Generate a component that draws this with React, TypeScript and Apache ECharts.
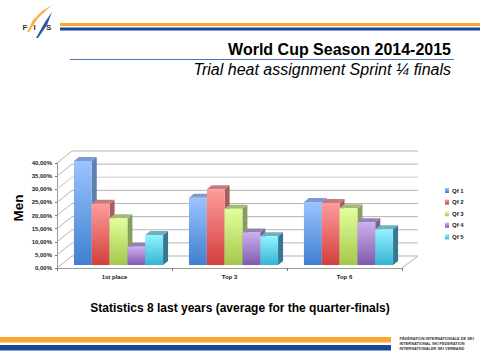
import React, { useEffect, useRef } from "react";
import * as echarts from "echarts";

const categories = ["1st place", "Top 3", "Top 6"];
const seriesNames = ["Qf 1", "Qf 2", "Qf 3", "Qf 4", "Qf 5"];
const qf1 = [40, 26, 24.4];
const qf2 = [23.7, 29.2, 24];
const qf3 = [18.2, 21.8, 22];
const qf4 = [7.3, 12.8, 16.7];
const qf5 = [11.8, 11.3, 14];
const seriesValues = [qf1, qf2, qf3, qf4, qf5];
const ticks = [0, 5, 10, 15, 20, 25, 30, 35, 40];
const palettes = [
  { top: "#9cc3ff", bottom: "#3f7fcf", side: "#5f7fae", cap: "#7a9ccc" },
  { top: "#ff9c9c", bottom: "#d13f3c", side: "#a85c5c", cap: "#c77c7c" },
  { top: "#e2ff9c", bottom: "#a4c84a", side: "#84a05c", cap: "#a3b97c" },
  { top: "#ccb0ee", bottom: "#7f5aab", side: "#75628f", cap: "#9681b3" },
  { top: "#94f2ff", bottom: "#35b4d6", side: "#35788f", cap: "#6fb0be" },
];

const DX = 15;
const DY = -12;

function vertical(top: string, bottom: string) {
  return new echarts.graphic.LinearGradient(0, 0, 0, 1, [
    { offset: 0, color: top },
    { offset: 1, color: bottom },
  ]);
}

function barRenderer(seriesIdx: number) {
  const pal = palettes[seriesIdx];
  return (_p: any, api: any) => {
    const cat = api.value(0);
    const base = api.coord([cat, 0]);
    const top = api.coord([cat, api.value(1)]);
    const band = api.size([1, 0])[0];
    const w = band * 0.155;
    const x0 = base[0] + 4 + (seriesIdx - 2.5) * w;
    const x1 = x0 + w;
    const yb = base[1] - 3;
    const yt = top[1] - 2;
    const dx = 5;
    const dy = -4;
    return {
      type: "group",
      children: [
        {
          type: "polygon",
          shape: { points: [[x1, yt], [x1 + dx, yt + dy], [x1 + dx, yb + dy], [x1, yb]] },
          style: { fill: pal.side },
        },
        {
          type: "polygon",
          shape: { points: [[x0, yt], [x0 + dx, yt + dy], [x1 + dx, yt + dy], [x1, yt]] },
          style: { fill: pal.cap },
        },
        {
          type: "rect",
          shape: { x: x0, y: yt, width: w, height: yb - yt },
          style: { fill: vertical(pal.top, pal.bottom) },
        },
      ],
    };
  };
}

function wallRenderer(_p: any, api: any) {
  const v = api.value(0);
  const left = api.coord([0, v]);
  const right = api.coord([2, v]);
  const band = api.size([1, 0])[0];
  const xl = left[0] - band / 2;
  const xr = right[0] + band / 2;
  return {
    type: "polyline",
    shape: {
      points: [
        [xl, left[1]],
        [xl + DX, left[1] + DY],
        [xr + DX + 1, left[1] + DY],
        ...(v === 0 ? [[xr, left[1]]] : []),
      ],
    },
    style: { fill: "none", stroke: v === 30 ? "#dedede" : "#b4b4b4", lineWidth: v === 30 ? 1.5 : 1 },
  };
}

const font = "Liberation Sans";

function txt(x: number, y: number, text: string, size: number, extra: any = {}) {
  return {
    type: "text",
    x,
    y,
    style: { text, fontFamily: font, fontSize: size, fill: "#000", textVerticalAlign: "middle", ...extra },
  };
}

const logoPath = (p: number[][], fill: any) => ({
  type: "polygon",
  shape: { points: p },
  style: { fill },
});

export default function App() {
  const ref = useRef<HTMLDivElement>(null);
  useEffect(() => {
    const chart = echarts.init(ref.current!, null, { renderer: "svg" });
    chart.setOption({
      animation: false,
      grid: { left: 57, width: 345, top: 163, height: 105 },
      legend: {
        orient: "vertical",
        left: 440,
        top: 182.5,
        itemWidth: 4,
        itemHeight: 5,
        itemGap: 5.6,
        icon: "rect",
        data: seriesNames,
        textStyle: { fontSize: 6, fontFamily: font, color: "#222", fontWeight: "bold", padding: [0, 0, 0, -2] },
      },
      xAxis: {
        type: "category",
        data: categories,
        axisLine: { lineStyle: { color: "#9a9a9a", width: 1 } },
        axisTick: { show: true, length: 3, lineStyle: { color: "#777" } },
        axisLabel: { fontSize: 6, fontFamily: font, color: "#222", fontWeight: "bold", margin: 6 },
      },
      yAxis: {
        type: "value",
        min: 0,
        max: 40,
        interval: 5,
        axisLine: { show: true, lineStyle: { color: "#9a9a9a" } },
        axisTick: { show: true, length: 2, lineStyle: { color: "#777" } },
        splitLine: { show: false },
        axisLabel: {
          fontSize: 6,
          fontFamily: font,
          color: "#222",
          fontWeight: "bold",
          margin: 5,
          formatter: (v: number) => v.toFixed(2).replace(".", ",") + "%",
        },
      },
      series: [
        {
          type: "custom",
          name: "wall",
          silent: true,
          z: 1,
          encode: { x: -1, y: 0 },
          data: ticks.map((t) => [t]),
          renderItem: wallRenderer,
        },
        ...seriesNames.map((name, i) => ({
          type: "custom",
          name,
          z: 2 + i,
          itemStyle: { color: vertical(palettes[i].top, palettes[i].bottom) },
          encode: { x: 0, y: 1 },
          data: seriesValues[i].map((v, c) => [c, v]),
          renderItem: barRenderer(i),
        })),
      ],
      graphic: [
        logoPath([[52, 5], [42, 11], [33, 20], [27, 32], [29, 32], [38, 18]], "#f7b048"),
        logoPath([[52, 12], [45, 22], [36, 38], [38, 38], [47, 25]], "#2c56a0"),
        txt(22.5, 27, "F", 8, { fontWeight: "bold", fill: "#333" }),
        txt(33.5, 27, "I", 8, { fontWeight: "bold", fill: "#333" }),
        txt(46, 27, "S", 8, { fontWeight: "bold", fill: "#333" }),
        { type: "rect", shape: { x: 60, y: 23, width: 420, height: 3 }, style: { fill: "#f9a62b" } },
        { type: "rect", shape: { x: 60, y: 27.5, width: 420, height: 3 }, style: { fill: "#1c4696" } },
        { type: "line", shape: { x1: 70, y1: 59.5, x2: 454, y2: 59.5 }, style: { stroke: "#4a78b8", lineWidth: 1 } },
        txt(451, 49.5, "World Cup Season 2014-2015", 16, { fontWeight: "bold", textAlign: "right" }),
        txt(451, 69, "Trial heat assignment Sprint ¼ finals", 16, { fontStyle: "italic", textAlign: "right" }),
        txt(240, 307.5, "Statistics 8 last years (average for the quarter-finals)", 12, { fontWeight: "bold", textAlign: "center" }),
        { ...txt(18, 208, "Men", 13.5, { fontWeight: "bold", textAlign: "center" }), rotation: Math.PI / 2 },
        { type: "rect", shape: { x: 0, y: 337, width: 391, height: 5.5 }, style: { fill: "#f9a62b" } },
        { type: "rect", shape: { x: 0, y: 345, width: 391, height: 5.5 }, style: { fill: "#1c4696" } },
        txt(399.5, 338.5, "FÉDÉRATION INTERNATIONALE DE SKI", 3.9, { fontWeight: "bold", fill: "#333" }),
        txt(399.5, 343.5, "INTERNATIONAL SKI FEDERATION", 3.9, { fontWeight: "bold", fill: "#333" }),
        txt(399.5, 348.5, "INTERNATIONALER SKI VERBAND", 3.9, { fontWeight: "bold", fill: "#333" }),
      ],
    });
    return () => chart.dispose();
  }, []);
  return <div ref={ref} style={{ width: 480, height: 360, position: "absolute", left: 0, top: 0 }} />;
}
